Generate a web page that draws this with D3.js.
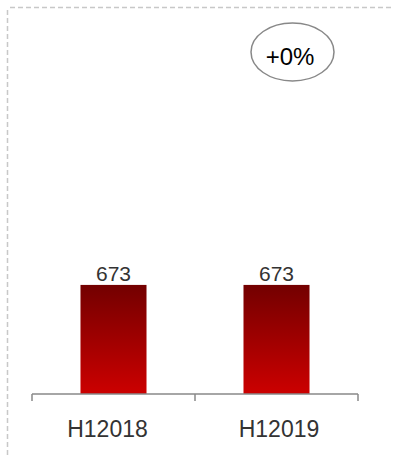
<!DOCTYPE html>
<html><head><meta charset="utf-8">
<script src="https://cdn.jsdelivr.net/npm/d3@7"></script>
<style>html,body{margin:0;padding:0;background:#fff;}svg{display:block;}</style>
</head><body>
<script>
const categories = ["H12018", "H12019"];
const values = [673, 673];
const changeLabel = "+0%";

const W = 393, H = 455;
const svg = d3.select("body").append("svg").attr("width", W).attr("height", H);

const defs = svg.append("defs");
const grad = defs.append("linearGradient").attr("id", "barGrad")
  .attr("x1", 0).attr("y1", 0).attr("x2", 0).attr("y2", 1);
grad.append("stop").attr("offset", "0%").attr("stop-color", "#730000");
grad.append("stop").attr("offset", "100%").attr("stop-color", "#cc0000");

// dashed frame
svg.append("line").attr("x1", 10).attr("x2", W).attr("y1", 7.5).attr("y2", 7.5)
  .attr("stroke", "#c8c8c8").attr("stroke-width", 1.5).attr("stroke-dasharray", "5,3");
svg.append("line").attr("x1", 7.5).attr("x2", 7.5).attr("y1", 10).attr("y2", H)
  .attr("stroke", "#c8c8c8").attr("stroke-width", 1.5).attr("stroke-dasharray", "5,3");

const x = d3.scaleBand().domain(categories).range([32, 358]).padding(0);
const y = d3.scaleLinear().domain([0, 2400]).range([394, 5]);

// bars
const barFrac = 0.405;
svg.selectAll("rect.bar").data(categories).enter().append("rect")
  .attr("class", "bar")
  .attr("x", d => x(d) + x.bandwidth() * (1 - barFrac) / 2)
  .attr("width", x.bandwidth() * barFrac)
  .attr("y", (d, i) => y(values[i]))
  .attr("height", (d, i) => y(0) - y(values[i]))
  .attr("fill", "url(#barGrad)");

// value labels
svg.selectAll("text.val").data(categories).enter().append("text")
  .attr("class", "val")
  .attr("x", d => x(d) + x.bandwidth() / 2)
  .attr("y", (d, i) => y(values[i]) - 4)
  .attr("text-anchor", "middle")
  .attr("font-family", "Liberation Sans, Arial, sans-serif")
  .attr("font-size", 21)
  .attr("fill", "#333")
  .text((d, i) => values[i]);

// axis
const axisG = svg.append("g").attr("transform", `translate(0,${y(0)})`);
const axisColor = "#888";
axisG.append("line").attr("x1", 32).attr("x2", 358).attr("y1", 0).attr("y2", 0)
  .attr("stroke", axisColor).attr("stroke-width", 1.5);
const tickXs = categories.map(d => x(d)).concat([x.range()[1]]);
axisG.selectAll("line.tick").data(tickXs).enter().append("line")
  .attr("class", "tick")
  .attr("x1", d => d).attr("x2", d => d).attr("y1", 0).attr("y2", 7)
  .attr("stroke", axisColor).attr("stroke-width", 1.5);
const labelShift = [-6, 2.5];
axisG.selectAll("text.cat").data(categories).enter().append("text")
  .attr("class", "cat")
  .attr("x", (d, i) => x(d) + x.bandwidth() / 2 + labelShift[i])
  .attr("y", 42.5)
  .attr("text-anchor", "middle")
  .attr("font-family", "Liberation Sans, Arial, sans-serif")
  .attr("font-size", 23)
  .attr("fill", "#333")
  .text(d => d);

// change ellipse
const eg = svg.append("g").attr("transform", "translate(292.5,52)");
eg.append("ellipse").attr("rx", 41.5).attr("ry", 29)
  .attr("fill", "#fff").attr("stroke", "#888").attr("stroke-width", 1.5);
eg.append("text").attr("x", -2.5).attr("y", 13).attr("text-anchor", "middle")
  .attr("font-family", "Liberation Sans, Arial, sans-serif")
  .attr("font-size", 24).attr("fill", "#000").text(changeLabel);
</script>
</body></html>
